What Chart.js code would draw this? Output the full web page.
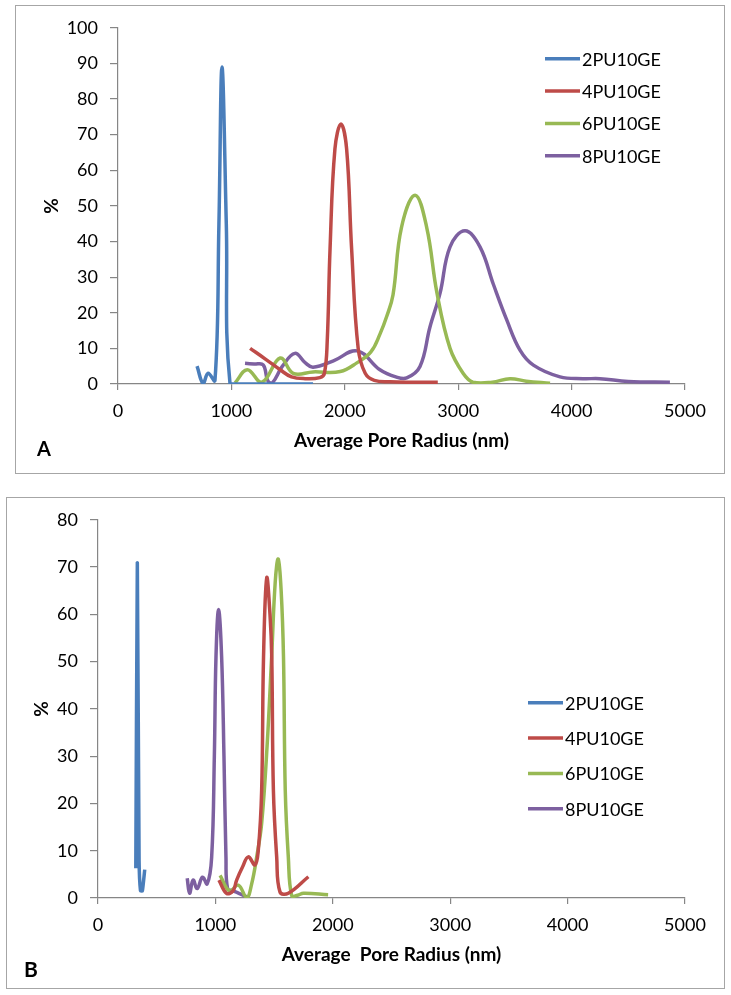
<!DOCTYPE html>
<html>
<head>
<meta charset="utf-8">
<title>Pore radius distribution</title>
<script src="https://cdn.jsdelivr.net/npm/chart.js@4.4.1/dist/chart.umd.min.js"></script>
<style>
  body { margin: 0; background: #fff; width: 731px; height: 995px; position: relative; font-family: Lato, sans-serif; }
  .box { position: absolute; outline: 1.5px solid #a6a6a6; outline-offset: -1px; }
  .box canvas { position: absolute; left: 0; top: 0; }
  .tag { position: absolute; font-weight: bold; font-size: 20px; color: #000; line-height: 1; }
</style>
</head>
<body>
<div class="box" id="boxA" style="left:15px; top:5px; width:710px; height:469px;">
  <canvas id="chartA" width="710" height="469"></canvas>
  <div class="tag" style="left:22px; top:433px;">A</div>
</div>
<div class="box" id="boxB" style="left:6px; top:497px; width:719px; height:492px;">
  <canvas id="chartB" width="719" height="492"></canvas>
  <div class="tag" style="left:18px; top:461px; font-size:21px;">B</div>
</div>
<script>
// series labels and colours (Excel 2007 palette)
const seriesNames = ['2PU10GE', '4PU10GE', '6PU10GE', '8PU10GE'];
const seriesColors = ['#4a7ebb', '#be4b48', '#98b954', '#7d60a0'];

// tick values
const xTicks = [0, 1000, 2000, 3000, 4000, 5000];
const yTicksA = [0, 10, 20, 30, 40, 50, 60, 70, 80, 90, 100];
const yTicksB = [0, 10, 20, 30, 40, 50, 60, 70, 80];

// --- chart A ---
const a2x = [697, 750, 795, 855, 890, 917, 955, 988, 1100, 1300, 1500, 1720];
const a2y = [5, 0.2, 3, 1, 45, 89, 45, 0, 0, 0, 0, 0];
const a4x = [1165, 1300, 1430, 1530, 1650, 1780, 1820, 1845, 1870, 1913, 1966, 2016, 2060, 2118, 2180, 2260, 2400, 2600, 2820];
const a4y = [10, 7, 4, 2, 1.5, 1.8, 3, 12, 38, 66, 73, 66, 38, 10, 3, 1, 0.6, 0.5, 0.5];
const a6x = [1032, 1140, 1270, 1430, 1545, 1720, 1960, 2110, 2230, 2310, 2370, 2425, 2500, 2620, 2722, 2813, 2928, 3043, 3130, 3300, 3457, 3600, 3810];
const a6y = [0.3, 4, 0.5, 7.3, 3, 3.4, 3.5, 6, 9, 14, 19, 25, 44, 53, 44, 25.5, 10, 3, 0.5, 0.5, 1.5, 0.8, 0.2];
const a8x = [1120, 1200, 1280, 1320, 1360, 1450, 1560, 1650, 1720, 1900, 2110, 2310, 2450, 2546, 2663, 2751, 2840, 2928, 3060, 3192, 3310, 3428, 3545, 3663, 3898, 4100, 4250, 4500, 4867];
const a8y = [5.8, 5.6, 5.4, 1, 0.3, 5, 8.6, 6, 4.7, 6.5, 9.3, 4, 2, 1.7, 4.9, 16, 25.5, 38.5, 43, 38.5, 28, 18, 9.5, 5.3, 2, 1.5, 1.5, 0.7, 0.5];

// --- chart B ---
const b2x = [322, 335, 350, 362, 378, 398];
const b2y = [6.3, 70.9, 8, 1.5, 1.5, 6];
const b4x = [1030, 1095, 1150, 1181, 1230, 1280, 1337, 1365, 1394, 1410, 1437, 1465, 1480, 1494, 1522, 1550, 1621, 1792];
const b4y = [3.8, 1, 1.5, 3.8, 6.5, 8.7, 7, 10, 22.8, 51, 67.7, 60, 51, 22.8, 8.7, 1.3, 1, 4.5];
const b6x = [1040, 1120, 1195, 1267, 1309, 1352, 1394, 1440, 1479, 1510, 1535, 1560, 1580, 1595, 1621, 1650, 1700, 1750, 1960];
const b6y = [4.8, 1.5, 2.7, 0.1, 3, 8.7, 15.8, 32, 51, 67, 71.7, 65, 51, 22.8, 8.7, 0.5, 0.6, 1, 0.7];
const b8x = [760, 780, 810, 845, 890, 930, 968, 991, 1005, 1027, 1053, 1073, 1090, 1104, 1150, 1200, 1270];
const b8y = [4.2, 1, 3.8, 2, 4.4, 3, 8.6, 30, 51, 61, 51, 30, 8.6, 2, 1.5, 1, 0.2];

function pts(xs, ys) {
  return xs.map(function (x, i) { return { x: x, y: ys[i] }; });
}

function makeDatasets(list) {
  return list.map(function (s, i) {
    return {
      label: seriesNames[i],
      data: pts(s[0], s[1]),
      borderColor: seriesColors[i],
      backgroundColor: seriesColors[i],
      borderWidth: 3.5,
      pointRadius: 0,
      showLine: true,
      tension: s[2] !== undefined ? s[2] : 0.4
    };
  });
}

// legend drawn inside the plot area, like the Excel original
const insideLegend = {
  id: 'insideLegend',
  afterDraw(chart, args, opts) {
    const ctx = chart.ctx;
    const area = chart.chartArea;
    ctx.save();
    ctx.font = '18px Lato, sans-serif';
    ctx.textBaseline = 'middle';
    chart.data.datasets.forEach(function (ds, i) {
      const x = area.right - opts.right;
      const y = area.top + opts.top + i * opts.spacing;
      ctx.strokeStyle = ds.borderColor;
      ctx.lineWidth = 3.5;
      ctx.beginPath();
      ctx.moveTo(x, y);
      ctx.lineTo(x + 35, y);
      ctx.stroke();
      ctx.fillStyle = '#000';
      ctx.fillText(ds.label, x + 37, y + 1);
    });
    ctx.restore();
  }
};

function makeOptions(yTicks, xTitle, cfg) {
  const tickFont = { family: 'Lato', size: 18 };
  const titleFont = { family: 'Lato', size: 19, weight: 'bold' };
  return {
    responsive: false,
    animation: false,
    layout: { padding: { left: 0, top: 22, right: 40, bottom: 0 } },
    plugins: {
      legend: { display: false },
      tooltip: { enabled: false },
      insideLegend: cfg.legend
    },
    scales: {
      x: {
        type: 'linear',
        min: xTicks[0],
        max: xTicks[xTicks.length - 1],
        afterBuildTicks: function (s) { s.ticks = xTicks.map(function (v) { return { value: v }; }); },
        afterFit: function (s) { s.height = cfg.xHeight; },
        ticks: { color: '#000', font: tickFont, padding: 10, maxRotation: 0, callback: function (v) { return String(v); } },
        grid: { drawOnChartArea: false, drawTicks: true, tickLength: 6, color: '#868686', lineWidth: 1.2 },
        border: { color: '#868686', width: 1.2 },
        title: { display: true, text: xTitle, color: '#000', font: titleFont, padding: { top: 0, bottom: cfg.xTitlePad } }
      },
      y: {
        type: 'linear',
        min: yTicks[0],
        max: yTicks[yTicks.length - 1],
        afterBuildTicks: function (s) { s.ticks = yTicks.map(function (v) { return { value: v }; }); },
        afterFit: function (s) { s.width = cfg.yWidth; },
        ticks: { color: '#000', font: tickFont, padding: 12, callback: function (v) { return String(v); } },
        grid: { drawOnChartArea: false, drawTicks: true, tickLength: 8, color: '#868686', lineWidth: 1.2 },
        border: { color: '#868686', width: 1.2 },
        title: { display: true, text: '%', color: '#000', font: titleFont, padding: { top: cfg.yTitlePad, bottom: 0 } }
      }
    }
  };
}

new Chart(document.getElementById('chartA'), {
  type: 'scatter',
  data: { datasets: makeDatasets([[a2x, a2y], [a4x, a4y], [a6x, a6y], [a8x, a8y]]) },
  options: makeOptions(yTicksA, 'Average Pore Radius (nm)', {
    xHeight: 90, yWidth: 103, xTitlePad: 21.5, yTitlePad: 25.5,
    legend: { right: 140, top: 31, spacing: 32.3 }
  }),
  plugins: [insideLegend]
});

new Chart(document.getElementById('chartB'), {
  type: 'scatter',
  data: { datasets: makeDatasets([[b2x, b2y, 0.15], [b4x, b4y], [b6x, b6y], [b8x, b8y]]) },
  options: makeOptions(yTicksB, 'Average  Pore Radius (nm)', {
    xHeight: 91, yWidth: 92, xTitlePad: 22.5, yTitlePad: 24.5,
    legend: { right: 157, top: 183, spacing: 35.3 }
  }),
  plugins: [insideLegend]
});
</script>
</body>
</html>
